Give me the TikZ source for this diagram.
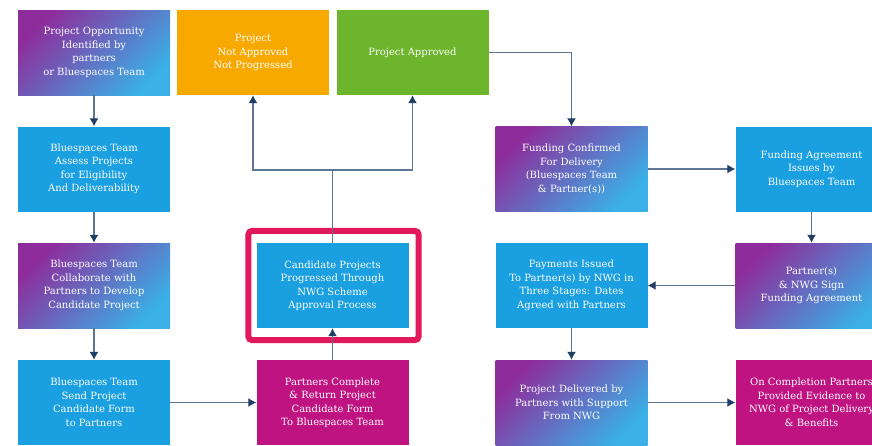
\documentclass[tikz,border=0pt]{standalone}
\usepackage{fontspec}
\setmainfont{DejaVu Serif}
\usetikzlibrary{arrows.meta}
\definecolor{bsblue}{HTML}{1A9FE0}
\definecolor{bspurple}{HTML}{8E2C9C}
\definecolor{bslight}{HTML}{3AB0E6}
\definecolor{bsmagenta}{HTML}{BF1382}
\definecolor{bsorange}{HTML}{F8A900}
\definecolor{bsgreen}{HTML}{6CB52C}
\definecolor{bsred}{HTML}{E2185C}
\definecolor{bsline}{HTML}{5B7592}
\definecolor{bsarrow}{HTML}{1F3F66}
\begin{document}
\begin{tikzpicture}[x=1pt,y=-1pt,
  box/.style={minimum width=152pt,minimum height=85pt,inner sep=2pt,align=center,
    text=white,font=\fontsize{10}{13.5}\selectfont},
  blue box/.style={box,fill=bsblue},
  grad box/.style={box,top color=bspurple,bottom color=bslight,shading angle=45},
  link/.style={draw=bsline,line width=1.2pt},
  flow/.style={link,-{Latex[color=bsarrow,length=8pt,width=9pt]}}]
  \useasboundingbox (0,0) rectangle (872,445);
  \clip (0,0) rectangle (872,445);
  \fill[white] (0,0) rectangle (872,445);
  % top row
  \node[grad box] (ident) at (94,52.5) {Project Opportunity\\Identified by\\partners\\or Bluespaces Team};
  \node[box,fill=bsorange] (notappr) at (253,52.5) {Project\\Not Approved\\Not Progressed};
  \node[box,fill=bsgreen] (appr) at (412.5,52.5) {Project Approved};
  % left column
  \node[blue box] (assess) at (94,169) {Bluespaces Team\\Assess Projects\\for Eligibility\\And Deliverability};
  \node[grad box] (collab) at (94,285.5) {Bluespaces Team\\Collaborate with\\Partners to Develop\\Candidate Project};
  \node[blue box] (send) at (94,402.5) {Bluespaces Team\\Send Project\\Candidate Form\\to Partners};
  % middle column
  \node[blue box] (candidate) at (332.5,285.5) {Candidate Projects\\Progressed Through\\NWG Scheme\\Approval Process};
  \node[box,fill=bsmagenta] (complete) at (332.5,402.5) {Partners Complete\\\& Return Project\\Candidate Form\\To Bluespaces Team};
  \draw[bsred,line width=6pt,rounded corners=4pt]
    ([xshift=-8pt,yshift=-12pt]candidate.south west) rectangle ([xshift=10pt,yshift=12pt]candidate.north east);
  % right columns
  \node[grad box] (confirmed) at (571.5,169) {Funding Confirmed\\For Delivery\\(Bluespaces Team\\\& Partner(s))};
  \node[blue box] (issued) at (811.5,169) {Funding Agreement\\Issues by\\Bluespaces Team};
  \node[blue box] (payments) at (571.5,285.5) {Payments Issued\\To Partner(s) by NWG in\\Three Stages: Dates\\Agreed with Partners};
  \node[grad box] (sign) at (811.5,285.5) {Partner(s)\\\& NWG Sign\\Funding Agreement};
  \node[grad box] (delivered) at (571.5,402.5) {Project Delivered by\\Partners with Support\\From NWG};
  \node[box,fill=bsmagenta] (evidence) at (811.5,402.5) {On Completion Partners\\Provided Evidence to\\NWG of Project Delivery\\\& Benefits};
  % connectors
  \coordinate (split) at (332.5,170);
  \draw[flow] (ident) -- (assess);
  \draw[flow] (assess) -- (collab);
  \draw[flow] (collab) -- (send);
  \draw[flow] (send) -- (complete);
  \draw[flow] (complete) -- (candidate);
  \draw[link] (candidate.north) -- (split);
  \draw[flow] (split) -| (notappr.south);
  \draw[flow] (split) -| (appr.south);
  \draw[flow] (appr.east) -| (confirmed.north);
  \draw[flow] (confirmed) -- (issued);
  \draw[flow] (issued) -- (sign);
  \draw[flow] (sign) -- (payments);
  \draw[flow] (payments) -- (delivered);
  \draw[flow] (delivered) -- (evidence);
\end{tikzpicture}
\end{document}
